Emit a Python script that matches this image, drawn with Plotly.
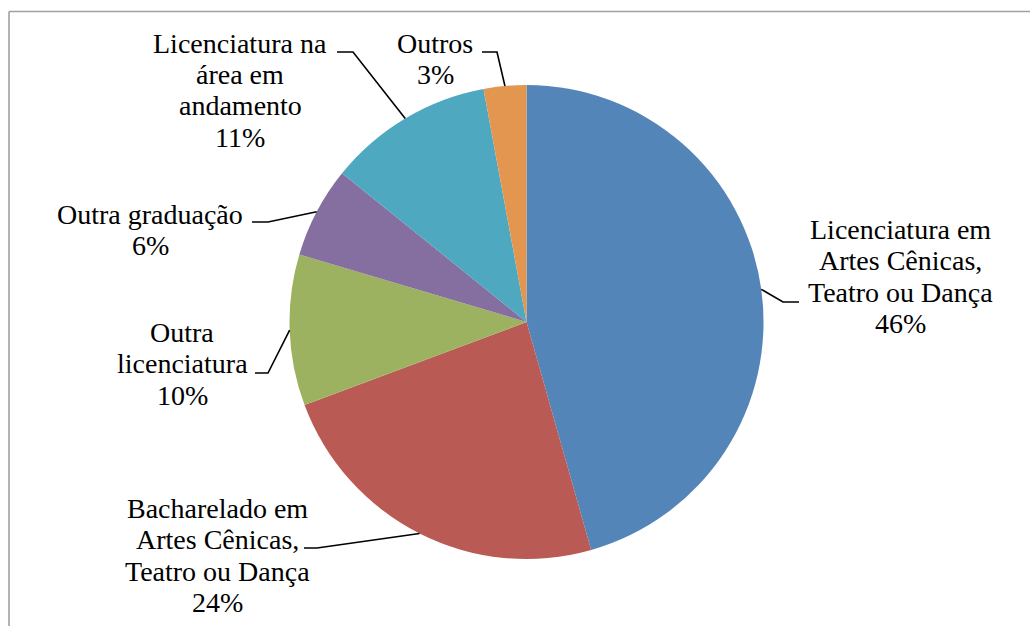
import math
import plotly.graph_objects as go

# ---- data ----
categories = [
    "Licenciatura em<br>Artes Cênicas,<br>Teatro ou Dança",
    "Bacharelado em<br>Artes Cênicas,<br>Teatro ou Dança",
    "Outra<br>licenciatura",
    "Outra graduação",
    "Licenciatura na<br>área em<br>andamento",
    "Outros",
]
values = [45.6, 23.7, 10.3, 6.2, 11.3, 2.9]
colors = ["#5485B8", "#B95A55", "#9DB260", "#856EA0", "#4EA8BF", "#E3964F"]

W, H = 1030, 626
CX, CY, R = 526.5, 322.0, 237.0
LINE_H = 31.5

# label layout (pixel positions): text centre x / first-line y, elbow point, line end
label_x = [900, 217, 182, 150, 240, 435]
label_y0 = [229, 508, 332, 214, 43, 43]
elbows = [(783, 302), (317, 548), (268, 373), (268, 222), (353, 52), (497, 52)]
line_ends = [(799, 302), (304, 548), (255, 373), (252, 222), (337, 52), (482, 52)]


def px(x):
    return x / W


def py(y):
    return 1 - y / H


fig = go.Figure()
fig.add_trace(go.Pie(
    labels=[c.replace("<br>", " ") for c in categories],
    values=values,
    marker=dict(colors=colors, line=dict(width=0)),
    sort=False,
    direction="clockwise",
    rotation=0,
    textinfo="none",
    hoverinfo="none",
    showlegend=False,
    domain=dict(x=[px(CX - R), px(CX + R)], y=[py(CY + R), py(CY - R)]),
))

total = sum(values)
shapes = []
annotations = []
cum = 0.0
for i, v in enumerate(values):
    mid = (cum + v / 2) / total * 2 * math.pi
    cum += v
    ax = CX + R * math.sin(mid)
    ay = CY - R * math.cos(mid)
    ex, ey = elbows[i]
    lx, ly = line_ends[i]
    shapes.append(dict(
        type="path", xref="paper", yref="paper",
        path=f"M {px(ax)},{py(ay)} L {px(ex)},{py(ey)} L {px(lx)},{py(ly)}",
        line=dict(color="black", width=1.6),
    ))
    pct = round(v / total * 100)
    lines = categories[i].split("<br>") + [f"{pct}%"]
    for k, t in enumerate(lines):
        annotations.append(dict(
            x=px(label_x[i]), y=py(label_y0[i] + k * LINE_H),
            xref="paper", yref="paper",
            text=t, showarrow=False, xanchor="center", yanchor="middle",
            font=dict(family="Liberation Serif", size=28, color="black"),
        ))

# chart frame (top and left edges visible)
shapes.append(dict(type="line", xref="paper", yref="paper",
                   x0=px(9), y0=py(11.5), x1=px(1030), y1=py(11.5),
                   line=dict(color="#A0A0A0", width=1.6)))
shapes.append(dict(type="line", xref="paper", yref="paper",
                   x0=px(9), y0=py(11.5), x1=px(9), y1=py(626),
                   line=dict(color="#A0A0A0", width=1.6)))

fig.update_layout(
    width=W, height=H,
    margin=dict(l=0, r=0, t=0, b=0),
    paper_bgcolor="white", plot_bgcolor="white",
    shapes=shapes, annotations=annotations,
)

fig.write_html("out.html",
               config={"displayModeBar": False},
               post_script="document.body.style.margin='0';document.body.style.overflow='hidden';")
